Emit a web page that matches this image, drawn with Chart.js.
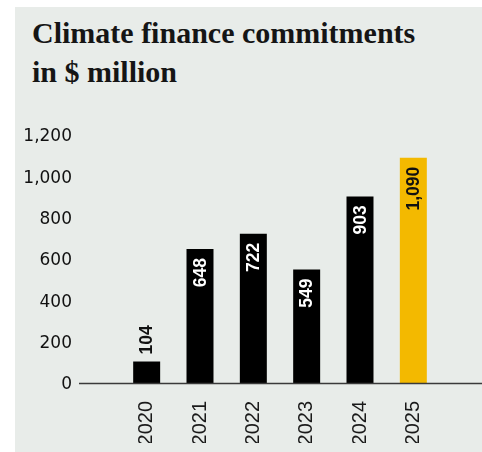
<!DOCTYPE html>
<html>
<head>
<meta charset="utf-8">
<script src="https://cdn.jsdelivr.net/npm/chart.js@4/dist/chart.umd.min.js"></script>
<style>
  html, body { margin: 0; padding: 0; background: #ffffff; }
  #wrap { position: relative; width: 482px; height: 452px; overflow: hidden; }
  #panel { position: absolute; left: 15px; top: 7px; width: 467px; height: 445px; background: #e8ece9; }
  #title { position: absolute; left: 32px; top: 13px; margin: 0; font-family: "Liberation Serif", serif; font-weight: bold; font-size: 30px; line-height: 39px; color: #151515; white-space: nowrap; }
  canvas { position: absolute; left: 0; top: 0; }
</style>
</head>
<body>
<div id="wrap">
  <div id="panel"></div>
  <h1 id="title">Climate finance commitments<br>in $ million</h1>
  <canvas id="c" width="482" height="452"></canvas>
</div>
<script>
const years = ["2020", "2021", "2022", "2023", "2024", "2025"];
const commitments = [104, 648, 722, 549, 903, 1090];
const yTicks = [0, 200, 400, 600, 800, 1000, 1200];
const highlightYear = "2025";

const BLACK = "#000000";
const YELLOW = "#f3b900";

const valueLabels = {
  id: "valueLabels",
  afterDatasetsDraw(chart) {
    const ctx = chart.ctx;
    const meta = chart.getDatasetMeta(0);
    ctx.save();
    ctx.font = "bold 17.5px 'Liberation Sans', Arial, sans-serif";
    ctx.textBaseline = "middle";
    meta.data.forEach((bar, i) => {
      const v = commitments[i];
      const txt = v.toLocaleString("en-US");
      const h = bar.base - bar.y;
      ctx.save();
      ctx.translate(bar.x, bar.y);
      ctx.rotate(-Math.PI / 2);
      if (h < 45) {
        ctx.fillStyle = "#111";
        ctx.textAlign = "left";
        ctx.fillText(txt, 7, 1);
      } else {
        ctx.fillStyle = years[i] === highlightYear ? "#111" : "#ffffff";
        ctx.textAlign = "right";
        ctx.fillText(txt, -9, 1);
      }
      ctx.restore();
    });
    ctx.restore();
  }
};

const baseline = {
  id: "baseline",
  afterDatasetsDraw(chart) {
    const ctx = chart.ctx;
    const y = Math.round(chart.scales.y.getPixelForValue(0)) + 0.5;
    ctx.save();
    ctx.strokeStyle = "#3a3a3a";
    ctx.lineWidth = 1.6;
    ctx.beginPath();
    ctx.moveTo(79, y);
    ctx.lineTo(482, y);
    ctx.stroke();
    ctx.restore();
  }
};

new Chart(document.getElementById("c"), {
  type: "bar",
  data: {
    labels: years,
    datasets: [{
      data: commitments,
      backgroundColor: years.map(y => y === highlightYear ? YELLOW : BLACK),
      borderWidth: 0,
      barPercentage: 0.506,
      categoryPercentage: 1.0
    }]
  },
  options: {
    responsive: false,
    animation: false,
    layout: { padding: { left: 15, right: 42, top: 135, bottom: 9 } },
    plugins: { legend: { display: false }, tooltip: { enabled: false }, title: { display: false } },
    scales: {
      y: {
        min: 0, max: 1200,
        afterBuildTicks(scale) { scale.ticks = yTicks.map(v => ({ value: v })); },
        afterFit(scale) { scale.width = 105; },
        grid: { display: false, drawTicks: false },
        border: { display: false },
        ticks: {
          padding: 48,
          labelOffset: 2,
          color: "#111111",
          font: { family: "'DejaVu Sans', sans-serif", size: 17 },
          callback: v => v.toLocaleString("en-US")
        }
      },
      x: {
        afterFit(scale) { scale.height = 60; },
        grid: { display: false, drawTicks: false },
        border: { display: false },
        ticks: {
          minRotation: 90, maxRotation: 90,
          padding: 18,
          color: "#1a1a1a",
          font: { family: "'Liberation Sans', Arial, sans-serif", size: 20 }
        }
      }
    }
  },
  plugins: [baseline, valueLabels]
});
</script>
</body>
</html>
